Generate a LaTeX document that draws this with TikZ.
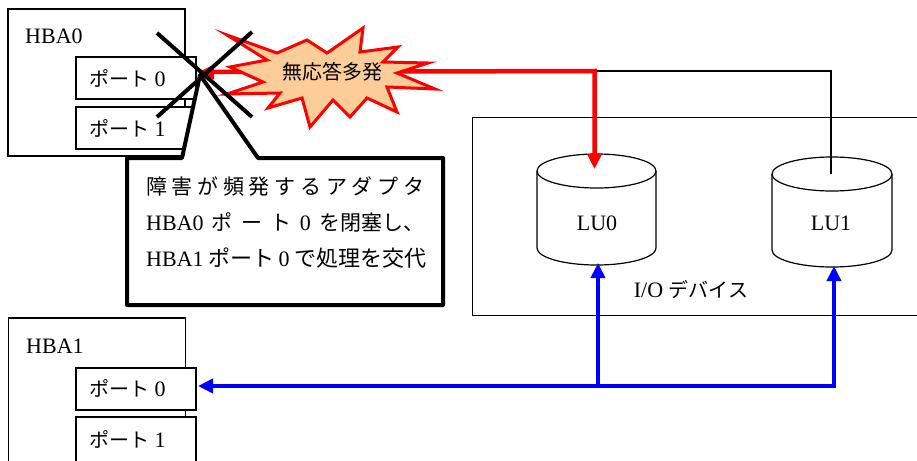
\documentclass[tikz,border=0pt]{standalone}
\usepackage{fontspec}
\setmainfont{Liberation Serif}
\newfontfamily\jp{Noto Sans CJK JP}
\usetikzlibrary{arrows.meta}
\definecolor{burstfill}{RGB}{252,204,153}
\newcommand\jtext[1]{{\fontsize{20}{24}\selectfont\jp #1}}
\newcommand\jcall[1]{{\fontsize{21}{25}\selectfont\jp #1}}
\newcommand\jbig[1]{{\fontsize{22}{26}\selectfont\jp #1}}
\begin{document}
\begin{tikzpicture}[x=1pt,y=-1pt,
  every node/.style={font=\fontsize{22}{26}\selectfont, inner sep=0pt},
  hbabox/.style={draw, line width=1.2pt, fill=white, minimum width=177pt},
  portbox/.style={draw, line width=1.2pt, fill=white, minimum width=120pt},
  portlabel/.style={anchor=west},
  thinline/.style={draw, line width=1.2pt},
  redline/.style={draw=red, line width=4.5pt, line join=miter},
  blueline/.style={draw=blue, line width=4.5pt, line join=miter},
  tip/.style={-{Triangle[length=15pt,width=14pt]}},
  tips/.style={{Triangle[length=15pt,width=14pt]}-{Triangle[length=15pt,width=14pt]}},
  crossline/.style={draw, line width=4pt},
  cyl/.style={draw, line width=1.2pt, fill=white},
  calltext/.style={anchor=west}
]
\useasboundingbox (0,0) rectangle (917,460);
\clip (0,0) rectangle (917,460);

% I/O device box
\node[draw, line width=1.2pt, minimum width=460pt, minimum height=198pt, anchor=north west] (io) at (472,117) {};
\node (iolabel) at (691,290) {I/O \jtext{デバイス}};

% LU cylinders
\draw[cyl] (537,171) -- (537,248) arc[start angle=180, end angle=360, x radius=59.5pt, y radius=17pt] -- (656,171);
\draw[cyl] (596.5,171) ellipse [x radius=59.5pt, y radius=17pt];
\node (lu0) at (597,223) {LU0};
\coordinate (lu0top) at (594.5,169);
\coordinate (lu0bot) at (598,263);

\draw[cyl] (772,174) -- (772,250) arc[start angle=180, end angle=360, x radius=60pt, y radius=17pt] -- (892,174);
\draw[cyl] (832,174) ellipse [x radius=60pt, y radius=17pt];
\node (lu1) at (831,223) {LU1};
\coordinate (lu1top) at (831,174);
\coordinate (lu1bot) at (834,266);

% HBA0
\node[hbabox, minimum height=147pt] (hba0) at (96.5,82.5) {};
\node[anchor=west] (hba0l) at (25,36) {HBA0};
\node[portbox, minimum height=42pt] (p00) at (136,78) {};
\node[portlabel] at (89,78) {\jtext{ポート} 0};
\node[portbox, minimum height=42pt] (p01) at (136,128) {};
\node[portlabel] at (89,128) {\jtext{ポート} 1};

% HBA1
\node[hbabox, minimum height=162pt] (hba1) at (97,399) {};
\node[anchor=west] (hba1l) at (26,346) {HBA1};
\node[portbox, minimum height=42pt] (p10) at (136,389) {};
\node[portlabel] at (89,388) {\jtext{ポート} 0};
\node[portbox, minimum height=53pt] (p11) at (136,443.5) {};
\node[portlabel] at (89,439) {\jtext{ポート} 1};

% thin line to LU1
\coordinate (r1) at (594.5,71);
\coordinate (k1) at (831,71);
\draw[thinline] (r1) -- (k1) -- (lu1top);

% red path
\coordinate (redend) at (199,72);
\draw[redline, tips] (redend) -- (r1) -- (lu0top);

% blue path
\coordinate (b0) at (598,386);
\coordinate (b1) at (834,386);
\coordinate (blueend) at (198,386);
\draw[blueline, tips] (lu1bot) -- (b1) -- (blueend);
\draw[blueline, tip] (b0) -- (lu0bot);

% burst
\draw[draw=red, line width=3pt, fill=burstfill, line join=miter]
  (227,35) -- (277,53) -- (307,40) -- (327,53) -- (363,28) -- (360,52) -- (398,47) -- (383,62) --
  (428,63) -- (397,73) -- (435,89) -- (387,87) -- (397,112) -- (367,98) -- (350,117) -- (333,100) --
  (310,127) -- (302,98) -- (268,108) -- (280,93) -- (227,94) -- (263,82) -- (230,67) -- (267,60) -- cycle;
\node (burst) at (332,72) {\jtext{無応答多発}};

% callout
\draw[line width=4pt, fill=white, line join=round]
  (127,158) -- (182,158) -- (200,75) -- (258,158) -- (443,158) -- (443,305) -- (127,305) -- cycle;
\node[calltext] (c1) at (146,187) {\hbox to 278pt{\fontsize{21}{25}\selectfont\jp 障\hfil 害\hfil が\hfil 頻\hfil 発\hfil す\hfil る\hfil ア\hfil ダ\hfil プ\hfil タ}};
\node[calltext] (c2) at (146,222) {\hbox to 278pt{HBA0\hfil\jcall{ポ}\hfil\jcall{ー}\hfil\jcall{ト}\hfil 0\hfil\jcall{を閉塞し、}}};
\node[calltext] (c3) at (146,258) {\hbox to 280pt{HBA1\hfil\jbig{ポート}\hfil 0\hfil\jbig{で処理を交代}}};

% cross
\draw[crossline] (157,33) -- (252,117);
\draw[crossline] (157,117) -- (252,32);
\end{tikzpicture}
\end{document}
